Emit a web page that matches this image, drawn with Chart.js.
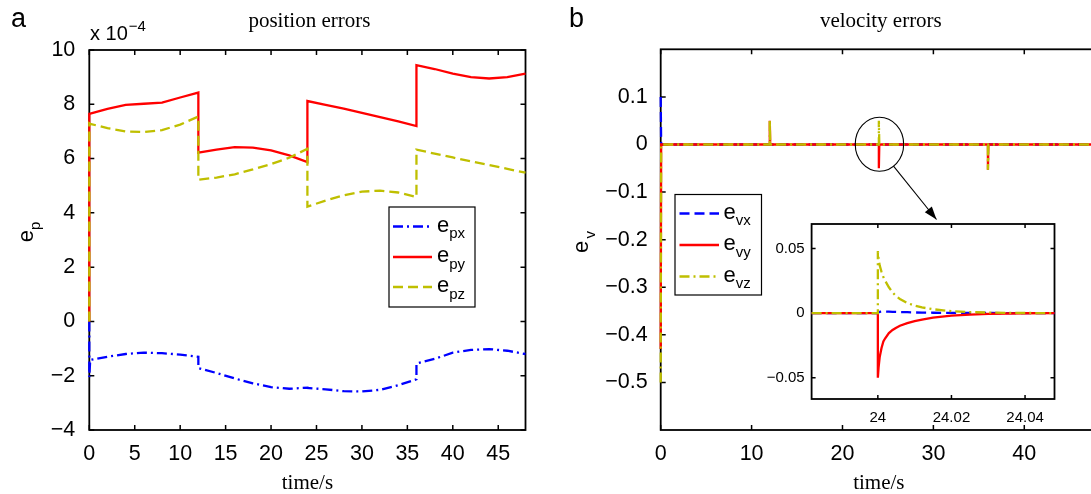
<!DOCTYPE html>
<html><head><meta charset="utf-8">
<script src="https://cdn.jsdelivr.net/npm/chart.js@4.4.0/dist/chart.umd.min.js"></script>
<style>
html,body{margin:0;padding:0;background:#fff;overflow:hidden;width:1091px;height:494px;}
#wrap{position:relative;width:1091px;height:494px;overflow:hidden;background:#fff;}
canvas{position:absolute;display:block;}
#ca{left:0;top:0;}
#cb{left:560px;top:0;}
#cc{left:750px;top:200px;}
</style></head><body>
<div id="wrap">
<canvas id="ca" width="560" height="494"></canvas>
<canvas id="cb" width="560" height="494"></canvas>
<canvas id="cc" width="320" height="230"></canvas>
</div>
<script>
// ---------- data: panel a (position errors, x 1e-4) ----------
const timeA = [0,0,0.1,2,4,6,8,10,12,12,14,16,18,20,22,24,24,26,28,30,32,34,36,36,38,40,42,44,46,48];
const epx = [0,-2.05,-1.42,-1.3,-1.2,-1.15,-1.17,-1.22,-1.3,-1.72,-1.9,-2.1,-2.28,-2.42,-2.48,-2.44,-2.45,-2.5,-2.57,-2.58,-2.52,-2.35,-2.13,-1.55,-1.38,-1.15,-1.05,-1.02,-1.08,-1.2];
const epy = [0,7.65,7.66,7.83,7.98,8.02,8.06,8.25,8.43,6.22,6.33,6.42,6.4,6.3,6.12,5.87,8.12,7.98,7.84,7.68,7.53,7.37,7.2,9.44,9.3,9.13,9.0,8.95,9.0,9.13];
const epz = [0,7.3,7.28,7.12,7.0,6.98,7.05,7.25,7.55,5.22,5.3,5.42,5.6,5.8,6.03,6.36,4.23,4.45,4.65,4.78,4.82,4.75,4.58,6.33,6.18,6.04,5.9,5.76,5.62,5.48];
const xTicksA = [0,5,10,15,20,25,30,35,40,45];
const yTicksA = [-4,-2,0,2,4,6,8,10];

// ---------- data: panel b (velocity errors) ----------
const timeB = [0,0.05,12,12.001,12.05,24,24.001,24.05,36,36.001,36.05,48];
const evx = [0.1,0,0,0,0,0,0.001,0,0,0,0,0];
const evy = [-0.43,0,0,0.05,0,0,-0.05,0,0,-0.053,0,0];
const evz = [-0.5,0,0,0.05,0,0,0.05,0,0,-0.053,0,0];
const xTicksB = [0,10,20,30,40];
const yTicksB = [-0.5,-0.4,-0.3,-0.2,-0.1,0,0.1];

// ---------- data: inset (zoom around t = 24 s) ----------
const timeI = [23.982,24,24,24.0002,24.0005,24.001,24.0015,24.002,24.003,24.004,24.005,24.006,24.008,24.01,24.012,24.015,24.02,24.025,24.03,24.035,24.04,24.048];
const ivx = [0,0,0,0.0006,0.001,0.0012,0.0012,0.0012,0.0011,0.001,0.0009,0.0008,0.0007,0.0005,0.0004,0.0003,0.0002,0.0001,0.0001,0,0,0];
const ivy = [0,0,-0.05,-0.042,-0.034,-0.027,-0.022,-0.0195,-0.0155,-0.013,-0.0113,-0.0098,-0.0078,-0.0062,-0.005,-0.0035,-0.002,-0.0011,-0.0006,-0.0003,-0.0001,0];
const ivz = [0,0,0.048,0.042,0.037,0.032,0.028,0.025,0.02,0.016,0.013,0.011,0.0078,0.0058,0.0044,0.003,0.0015,0.0008,0.0004,0.0002,0.0001,0];
const xTicksI = [24,24.02,24.04];
const yTicksI = [-0.05,0,0.05];

// ---------- styling ----------
const SANS = '"Liberation Sans", Arial, sans-serif';
const SERIF = '"Liberation Serif", "Times New Roman", serif';
const BLUE = '#0000ff', RED = '#ff0000', YEL = '#bfbf00';
const DASH = [10,5], DASHDOT = [10,4,2,4];

function pts(t, v){ return t.map((x,i)=>({x:x, y:v[i]})); }
function fmt(v){ return String(+(+v).toFixed(6)).replace('-', '\u2212'); }
function ds(t, v, color, dash, order){
  return {data: pts(t,v), borderColor: color, borderWidth: 2.3, borderDash: dash, pointRadius: 0,
          fill: false, tension: 0, order: order, borderCapStyle: 'butt', borderJoinStyle: 'miter', clip: 4};
}
function eSub(ctx, x, y, sub, size, subSize){
  ctx.font = size + 'px ' + SANS;
  ctx.fillText('e', x, y);
  const w = ctx.measureText('e').width;
  ctx.font = subSize + 'px ' + SANS;
  ctx.fillText(sub, x + w, y + subSize*0.45);
}
function eSubWidth(ctx, sub, size, subSize){
  ctx.font = size + 'px ' + SANS; const w1 = ctx.measureText('e').width;
  ctx.font = subSize + 'px ' + SANS; return w1 + ctx.measureText(sub).width;
}
function axisCfg(min, max, ticks, fontSize, pad, fitKey, fitVal, title){
  const c = {
    type: 'linear', min: min, max: max,
    grid: {display: false, drawTicks: false, tickLength: 0}, border: {display: false},
    ticks: {font: {family: SANS, size: fontSize}, color: '#000', padding: pad,
            maxRotation: 0, autoSkip: false, callback: (v)=>fmt(v)},
    afterBuildTicks: (s)=>{ s.ticks = ticks.map(v=>({value: v})); },
    afterFit: (s)=>{ s[fitKey] = fitVal; }
  };
  if (title) c.title = {display: true, text: title, font: {family: SERIF, size: 21}, color: '#000', padding: {top: 0, bottom: -2}};
  return c;
}
function frame(xt, yt, L, lw){
  return {
    id: 'frame',
    beforeDatasetsDraw(chart){
      const ctx = chart.ctx, a = chart.chartArea, sx = chart.scales.x, sy = chart.scales.y;
      ctx.save();
      ctx.strokeStyle = '#000'; ctx.lineWidth = lw;
      ctx.beginPath();
      xt.forEach(v=>{ const p = sx.getPixelForValue(v);
        ctx.moveTo(p, a.bottom); ctx.lineTo(p, a.bottom - L);
        ctx.moveTo(p, a.top); ctx.lineTo(p, a.top + L); });
      yt.forEach(v=>{ const p = sy.getPixelForValue(v);
        ctx.moveTo(a.left, p); ctx.lineTo(a.left + L, p);
        ctx.moveTo(a.right, p); ctx.lineTo(a.right - L, p); });
      ctx.stroke();
      ctx.lineWidth = lw + 0.3;
      ctx.strokeRect(a.left, a.top, a.right - a.left, a.bottom - a.top);
      ctx.restore();
    }
  };
}
function legend(box, rows, lineX0, lineX1, textX, rowY){
  return {
    id: 'leg',
    afterDraw(chart){
      const ctx = chart.ctx;
      ctx.save();
      ctx.fillStyle = '#fff'; ctx.fillRect(box[0], box[1], box[2]-box[0], box[3]-box[1]);
      ctx.strokeStyle = '#000'; ctx.lineWidth = 1.2; ctx.setLineDash([]);
      ctx.strokeRect(box[0], box[1], box[2]-box[0], box[3]-box[1]);
      rows.forEach((r, i)=>{
        const y = rowY[i];
        ctx.strokeStyle = r.color; ctx.lineWidth = 2.4; ctx.setLineDash(r.dash);
        ctx.beginPath(); ctx.moveTo(lineX0, y); ctx.lineTo(lineX1, y); ctx.stroke();
        ctx.setLineDash([]);
        ctx.fillStyle = '#000'; ctx.textBaseline = 'alphabetic'; ctx.textAlign = 'left';
        eSub(ctx, textX, y + 5, r.sub, 22, 15);
      });
      ctx.restore();
    }
  };
}
const base = {responsive: false, animation: false, events: [],
  plugins: {legend: {display: false}, tooltip: {enabled: false}, title: {display: false}}};

// ---------- panel a ----------
new Chart(document.getElementById('ca'), {
  type: 'line',
  data: {datasets: [ds(timeA, epx, BLUE, DASHDOT, 3), ds(timeA, epy, RED, [], 2), ds(timeA, epz, YEL, DASH, 1)]},
  options: Object.assign({}, base, {
    layout: {padding: {left: 0, top: 50, right: 34.5, bottom: 0}},
    scales: {
      x: axisCfg(0, 48, xTicksA, 21.5, 11, 'height', 64, 'time/s'),
      y: axisCfg(-4, 10, yTicksA, 21.5, 14, 'width', 89.3)
    }
  }),
  plugins: [frame(xTicksA, yTicksA, 5, 1.5),
    legend([389, 207, 475, 307], [{color: BLUE, dash: DASHDOT, sub: 'px'}, {color: RED, dash: [], sub: 'py'}, {color: YEL, dash: DASH, sub: 'pz'}],
           393, 432, 437, [226.5, 257, 287]),
    {id: 'txtA', afterDraw(chart){
      const ctx = chart.ctx, a = chart.chartArea;
      ctx.save(); ctx.fillStyle = '#000'; ctx.textBaseline = 'alphabetic';
      ctx.font = '27px ' + SANS; ctx.textAlign = 'left'; ctx.fillText('a', 11, 27);
      ctx.font = '21px ' + SERIF; ctx.textAlign = 'center'; ctx.fillText('position errors', (a.left + a.right)/2 + 2, 27);
      ctx.textAlign = 'left'; ctx.font = '20px ' + SANS; ctx.fillText('x 10', 90, 40);
      const w = ctx.measureText('x 10').width;
      ctx.font = '15px ' + SANS; ctx.fillText('\u22124', 90 + w + 1, 31);
      ctx.translate(33, 0); ctx.rotate(-Math.PI/2);
      const tw = eSubWidth(ctx, 'p', 22, 15);
      eSub(ctx, -(232) - tw/2, 0, 'p', 22, 15);
      ctx.restore();
    }}]
});

// ---------- panel b ----------
new Chart(document.getElementById('cb'), {
  type: 'line',
  data: {datasets: [ds(timeB, evx, BLUE, DASH, 3), ds(timeB, evy, RED, [], 2), ds(timeB, evz, YEL, DASHDOT, 1)]},
  options: Object.assign({}, base, {
    layout: {padding: {left: 0, top: 49.3, right: 23, bottom: 0}},
    scales: {
      x: axisCfg(0, 48, xTicksB, 21.5, 11, 'height', 64, 'time/s'),
      y: axisCfg(-0.6, 0.2, yTicksB, 21.5, 13, 'width', 100.7)
    }
  }),
  plugins: [frame(xTicksB, yTicksB, 5, 1.5),
    legend([115, 194.5, 201.5, 295], [{color: BLUE, dash: DASH, sub: 'vx'}, {color: RED, dash: [], sub: 'vy'}, {color: YEL, dash: DASHDOT, sub: 'vz'}],
           119.5, 159, 163.5, [213.5, 245, 276.5]),
    {id: 'txtB', afterDraw(chart){
      const ctx = chart.ctx, a = chart.chartArea, sx = chart.scales.x, sy = chart.scales.y;
      ctx.save(); ctx.fillStyle = '#000'; ctx.textBaseline = 'alphabetic';
      ctx.font = '27px ' + SANS; ctx.textAlign = 'left'; ctx.fillText('b', 9, 27);
      ctx.font = '21px ' + SERIF; ctx.textAlign = 'center'; ctx.fillText('velocity errors', (a.left + a.right)/2 + 2, 27);
      // zoom circle around the spike at t = 24 s
      const cx = sx.getPixelForValue(24) + 0.6, cy = sy.getPixelForValue(0) - 0.3;
      ctx.strokeStyle = '#000'; ctx.lineWidth = 1.1;
      ctx.beginPath(); ctx.ellipse(cx, cy, 24.2, 27, 0, 0, Math.PI*2); ctx.stroke();
      // arrow to inset
      const x0 = cx + 24.2*Math.cos(0.95), y0 = cy + 27*Math.sin(0.95);
      const x1 = 376.5, y1 = 219.5;
      ctx.beginPath(); ctx.moveTo(x0, y0); ctx.lineTo(x1, y1); ctx.stroke();
      const th = Math.atan2(y1 - y0, x1 - x0), L = 13, W = 4.5;
      ctx.beginPath(); ctx.moveTo(x1, y1);
      ctx.lineTo(x1 - L*Math.cos(th) + W*Math.sin(th), y1 - L*Math.sin(th) - W*Math.cos(th));
      ctx.lineTo(x1 - L*Math.cos(th) - W*Math.sin(th), y1 - L*Math.sin(th) + W*Math.cos(th));
      ctx.closePath(); ctx.fillStyle = '#000'; ctx.fill();
      ctx.fillStyle = '#000';
      ctx.translate(28, 0); ctx.rotate(-Math.PI/2);
      const tw = eSubWidth(ctx, 'v', 22, 15);
      eSub(ctx, -(237) - tw/2, 0, 'v', 22, 15);
      ctx.restore();
    }}]
});

// ---------- inset ----------
new Chart(document.getElementById('cc'), {
  type: 'line',
  data: {datasets: [ds(timeI, ivx, BLUE, DASH, 3), ds(timeI, ivy, RED, [], 2), ds(timeI, ivz, YEL, DASHDOT, 1)]},
  options: Object.assign({}, base, {
    layout: {padding: {left: 0, top: 24, right: 15.5, bottom: 0}},
    scales: {
      x: axisCfg(23.982, 24.048, xTicksI, 15, 10, 'height', 31),
      y: axisCfg(-0.0665, 0.069, yTicksI, 15, 7, 'width', 61.6)
    }
  }),
  plugins: [{id: 'bg', beforeDraw(chart){ const a = chart.chartArea, ctx = chart.ctx;
      ctx.save(); ctx.fillStyle = '#fff'; ctx.fillRect(a.left, a.top, a.right - a.left, a.bottom - a.top); ctx.restore(); }},
    frame(xTicksI, yTicksI, 4, 1.5)]
});
</script>
</body></html>
